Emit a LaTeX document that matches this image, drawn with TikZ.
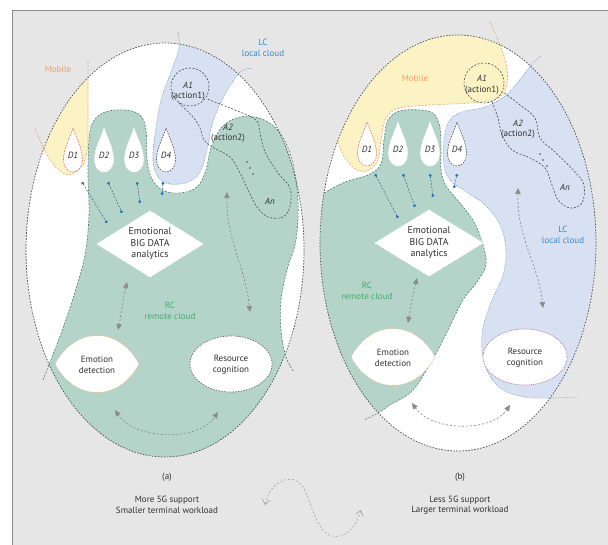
\documentclass[tikz,border=0pt]{standalone}
\usepackage{fontspec}
\setmainfont{PT Sans}
\usetikzlibrary{arrows.meta}
\definecolor{bggray}{HTML}{E6E6E6}
\definecolor{framegray}{HTML}{8A8A8A}
\definecolor{ellgray}{HTML}{4D4D4D}
\definecolor{greenfill}{HTML}{B4D4C9}
\definecolor{greenline}{HTML}{4E806F}
\definecolor{bluefill}{HTML}{D7E1F1}
\definecolor{blueline}{HTML}{7096C8}
\definecolor{yellowfill}{HTML}{FCF3C5}
\definecolor{orangeline}{HTML}{EFA273}
\definecolor{mobiletxt}{HTML}{F2A06A}
\definecolor{lctxt}{HTML}{3A88CC}
\definecolor{rctxt}{HTML}{3FAE6A}
\definecolor{textgray}{HTML}{303030}
\definecolor{arrgray}{HTML}{8C8C8C}
\definecolor{bluedot}{HTML}{1F74C2}
\definecolor{bluedash}{HTML}{4A6C8E}
\definecolor{redline}{HTML}{E0705A}
\definecolor{lensline}{HTML}{E2B48A}
\definecolor{purpleline}{HTML}{A66E9C}
\definecolor{sgray}{HTML}{A9A9A9}
\tikzset{
  every node/.style={font=\fontsize{9}{10.5}\selectfont, text=textgray, inner sep=0pt, align=center},
  bigtxt/.style={font=\fontsize{9.8}{11.5}\selectfont},
  ellborder/.style={draw=ellgray, line width=0.7pt, dash pattern=on 1.6pt off 1.4pt},
  greenb/.style={draw=greenline, line width=0.6pt, dash pattern=on 2pt off 1.5pt},
  blueb/.style={draw=blueline, line width=0.6pt, dash pattern=on 0.8pt off 1.2pt},
  orangeb/.style={draw=orangeline, line width=0.6pt, dash pattern=on 2pt off 1.5pt},
  tubeb/.style={draw=ellgray, line width=0.6pt, dash pattern=on 2pt off 1.6pt},
  grayarr/.style={draw=arrgray, line width=0.7pt, dash pattern=on 2pt off 2pt,
     {Triangle[length=6pt,width=5.5pt,fill=arrgray]}-{Triangle[length=6pt,width=5.5pt,fill=arrgray]}},
  bluearr/.style={draw=bluedash, line width=0.6pt, dash pattern=on 1.8pt off 1.5pt,
     {Circle[length=2.8pt,color=bluedot]}-{Circle[length=2.8pt,color=bluedot]}},
  sarr/.style={draw=sgray, line width=0.7pt, dash pattern=on 2pt off 2pt,
     {Straight Barb[length=5pt,width=8pt]}-{Straight Barb[length=5pt,width=8pt]}},
  dropred/.style={fill=white, draw=redline, line width=0.6pt, dash pattern=on 1.6pt off 1.2pt},
  dropwhite/.style={fill=white, draw=white, line width=0.7pt, dash pattern=on 1.6pt off 1.2pt},
  dropgray/.style={fill=white, draw=ellgray, line width=0.6pt, dash pattern=on 1.6pt off 1.2pt},
  lensA/.style={fill=white, draw=lensline, line width=0.7pt, dash pattern=on 0.8pt off 1pt},
  resgray/.style={fill=white, draw=ellgray!80, line width=0.7pt, dash pattern=on 1.6pt off 1.2pt},
  respurple/.style={fill=white, draw=purpleline, line width=0.7pt, dash pattern=on 0.8pt off 1pt},
  diam/.style={fill=white, draw=white, line width=0.8pt, dash pattern=on 1.6pt off 1.2pt},
  droplet/.pic={\path[pic actions] (0,-22) .. controls (3,-12) and (9.5,-2) .. (9.5,10)
     .. controls (9.5,17) and (5,22) .. (0,22) .. controls (-5,22) and (-9.5,17) .. (-9.5,10)
     .. controls (-9.5,-2) and (-3,-12) .. cycle;},
  lens/.pic={\path[pic actions] (-42,0) .. controls (-22,-38) and (22,-38) .. (42,0)
     .. controls (22,38) and (-22,38) .. (-42,0) -- cycle;}
}
\def\pathYA{(88,62) -- plot[smooth,tension=0.6] coordinates {(88,145) (83,165) (68,175) (54,165) (43,147) (35,128)}}
\def\pathBA{plot[smooth,tension=0.6] coordinates {(178,32) (179,48) (171,72) (161,100) (155,135) (153,160) (158,177) (170,184) (188,182) (200,172) (207,150) (212,125) (223,98) (240,72) (252,69)}}
\def\pathGA{plot[smooth,tension=0.6] coordinates {(43,380) (52,357) (63,328) (75,292) (85,255) (89,215) (88,175) (89,140) (93,122) (105,112) (125,110) (140,115) (146,130) (147,158) (151,177) (162,190) (180,193) (197,187) (206,170) (211,148) (222,127) (240,117) (262,119) (280,133) (292,160) (298,200) (296,240) (287,270) (281,300) (281,330) (286,357) (294,372)}}
\def\pathYB{plot[smooth,tension=0.6] coordinates {(490,22) (500,45) (507,68) (506,88) (496,99) (470,103) (430,105) (400,108) (386,118) (381,140) (378,160) (369,170) (357,170) (345,158) (337,140)}}
\def\pathBB{plot[smooth,tension=0.6] coordinates {(541,56) (532,64) (518,82) (505,96) (485,107) (462,112) (449,121) (444,140) (444,165) (450,180) (465,191) (485,205) (500,225) (506,250) (503,275) (490,305) (482,335) (485,365) (500,388) (525,397) (552,398) (577,397)}}
\def\pathGB{plot[smooth,tension=0.6] coordinates {(324,193) (345,182) (368,175) (381,164) (384,140) (388,120) (400,111) (420,110) (434,114) (440,128) (441,150) (441,170) (446,186) (460,203) (474,222) (483,245) (486,265) (477,282) (463,300) (448,330) (434,357) (413,390) (390,405) (378,413) (364,420)}}
\begin{document}
\begin{tikzpicture}[x=1pt,y=-1pt]
\useasboundingbox (0,0) rectangle (608,545);
\fill[white] (0,0) rectangle (608,545);
\fill[bggray] (12,10) rectangle (608,545);
\draw[framegray, line width=0.9pt] (12,545) -- (12,10) -- (608,10);

% ================= panel (a) =================
\fill[white] (165,250) ellipse (139pt and 207pt);
\begin{scope}
  \clip (165,250) ellipse (139pt and 207pt);
  \fill[yellowfill] \pathYA -- (10,128) -- (10,55) -- cycle;
  \fill[bluefill] \pathBA -- (260,20) -- (170,20) -- cycle;
  \fill[greenfill] \pathGA -- (300,480) -- (20,480) -- cycle;
\end{scope}
\draw[orangeb] \pathYA;
\draw[blueb] \pathBA;
\draw[greenb] \pathGA;
\draw[ellborder] (165,250) ellipse (139pt and 207pt);

% droplets
\pic[dropred] at (73,150) {droplet};
\pic[dropwhite] at (104,150) {droplet};
\pic[dropwhite] at (134,150) {droplet};
\pic[dropgray] at (166,150) {droplet};
\node (aD1) at (73,155) {\itshape D1};
\node (aD2) at (104,155) {\itshape D2};
\node (aD3) at (134,155) {\itshape D3};
\node (aD4) at (166,155) {\itshape D4};

% actions
\draw[tubeb] (190,87) circle (19pt);
\draw[tubeb] plot[smooth,tension=0.6] coordinates {(179,103) (193,117) (200,128) (204,140) (214,148) (230,157) (240,173) (249,192) (257,207) (268,217) (283,217) (290,206) (290,188) (278,173) (265,152) (260,133) (256,120) (235,110) (207,99)};
\node (aA1) at (188,85) {\itshape A1};
\node (aa1) at (188,96) {(action1)};
\node (aA2) at (228,127) {\itshape A2};
\node (aa2) at (228,138) {(action2)};
\node (aAn) at (270,201) {\itshape An};
\fill[ellgray] (247,162) circle (0.9pt) (250,168) circle (0.9pt) (253,174) circle (0.9pt);

% diamond
\coordinate (aDL) at (97,244); \coordinate (aDT) at (150,211);
\coordinate (aDR) at (203,244); \coordinate (aDB) at (150,277);
\path[diam] (aDL) -- (aDT) -- (aDR) -- (aDB) -- cycle;
\node[bigtxt] (aEBD) at (150,244) {Emotional\\BIG DATA\\analytics};

% lens and resource
\pic[lensA] at (97,364) {lens};
\node (aED) at (97,365) {Emotion\\detection};
\path[resgray] (231,364) ellipse (41pt and 28pt);
\node (aRC) at (231,365) {Resource\\cognition};

% blue arrows
\coordinate (ab1s) at (82,182); \coordinate (ab1e) at (107,223);
\coordinate (ab2s) at (108,182); \coordinate (ab2e) at (122,213);
\coordinate (ab3s) at (137,182); \coordinate (ab3e) at (140,203);
\coordinate (ab4s) at (163,182); \coordinate (ab4e) at (162,195);
\draw[bluearr] (ab1s) -- (ab1e);
\draw[bluearr] (ab2s) -- (ab2e);
\draw[bluearr] (ab3s) -- (ab3e);
\draw[bluearr] (ab4s) -- (ab4e);

% gray arrows
\coordinate (ag1) at (127,282); \coordinate (ag2) at (118,330);
\draw[grayarr] (ag1) .. controls (123,300) and (121,315) .. (ag2);
\coordinate (ag3) at (227,192); \coordinate (ag4) at (250,312);
\draw[grayarr] (ag3) .. controls (226,240) and (245,265) .. (ag4);
\coordinate (ag5) at (115,410); \coordinate (ag6) at (218,412);
\draw[grayarr] (ag5) .. controls (135,440) and (198,442) .. (ag6);

% labels
\node[text=mobiletxt] (aMob) at (58,69) {Mobile};
\node[text=lctxt] (aLC) at (263,48) {LC\\local cloud};
\node[text=rctxt] (aRCl) at (170,311) {RC\\remote cloud};
\node (acap) at (167,477) {(a)};
\node (atxt) at (167,505) {More 5G support\\Smaller terminal workload};

% ================= panel (b) =================
\fill[white] (458,243) ellipse (138pt and 208pt);
\begin{scope}
  \clip (458,243) ellipse (138pt and 208pt);
  \fill[yellowfill] \pathYB -- (300,120) -- (300,0) -- (490,0) -- cycle;
  \fill[bluefill] \pathBB -- (620,397) -- (620,20) -- (541,20) -- cycle;
  \fill[greenfill] \pathGB -- (300,480) -- (300,194) -- cycle;
\end{scope}
\draw[orangeb] \pathYB;
\draw[blueb] \pathBB;
\draw[greenb] \pathGB;
\draw[ellborder] (458,243) ellipse (138pt and 208pt);

\pic[dropred] at (367,144) {droplet};
\pic[dropwhite] at (398,144) {droplet};
\pic[dropwhite] at (430,144) {droplet};
\pic[dropgray] at (457,144) {droplet};
\node (bD1) at (367,149) {\itshape D1};
\node (bD2) at (398,149) {\itshape D2};
\node (bD3) at (430,149) {\itshape D3};
\node (bD4) at (457,149) {\itshape D4};

\draw[tubeb] (484,83) circle (20pt);
\draw[tubeb] plot[smooth,tension=0.6] coordinates {(492,102) (498,118) (502,135) (512,150) (530,158) (545,168) (552,185) (558,200) (570,208) (582,203) (584,185) (575,172) (555,152) (540,138) (535,118) (520,105) (503,92)};
\node (bA1) at (482,78) {\itshape A1};
\node (ba1) at (482,90) {(action1)};
\node (bA2) at (518,123) {\itshape A2};
\node (ba2) at (518,134) {(action2)};
\node (bAn) at (565,187) {\itshape An};
\fill[ellgray] (540,154) circle (0.9pt) (543,160) circle (0.9pt) (547,166) circle (0.9pt);

\coordinate (bDL) at (375,243); \coordinate (bDT) at (429,210);
\coordinate (bDR) at (483,243); \coordinate (bDB) at (429,276);
\path[diam] (bDL) -- (bDT) -- (bDR) -- (bDB) -- cycle;
\node[bigtxt] (bEBD) at (429,243) {Emotional\\BIG DATA\\analytics};

\pic[lensA] at (393,357) {lens};
\node (bED) at (393,358) {Emotion\\detection};
\path[respurple] (525,357) ellipse (42pt and 28pt);
\node (bRC) at (525,358) {Resource\\cognition};

\coordinate (bb1s) at (375,174); \coordinate (bb1e) at (398,218);
\coordinate (bb2s) at (403,174); \coordinate (bb2e) at (415,207);
\coordinate (bb3s) at (430,174); \coordinate (bb3e) at (433,197);
\coordinate (bb4s) at (457,174); \coordinate (bb4e) at (454,188);
\draw[bluearr] (bb1s) -- (bb1e);
\draw[bluearr] (bb2s) -- (bb2e);
\draw[bluearr] (bb3s) -- (bb3e);
\draw[bluearr] (bb4s) -- (bb4e);

\coordinate (bg1) at (417,278); \coordinate (bg2) at (408,323);
\draw[grayarr] (bg1) .. controls (413,295) and (410,310) .. (bg2);
\coordinate (bg3) at (518,188); \coordinate (bg4) at (543,308);
\draw[grayarr] (bg3) .. controls (517,240) and (538,262) .. (bg4);
\coordinate (bg5) at (412,403); \coordinate (bg6) at (510,405);
\draw[grayarr] (bg5) .. controls (432,432) and (492,432) .. (bg6);

\node[text=mobiletxt] (bMob) at (415,78) {Mobile};
\node[text=lctxt] (bLC) at (563,235) {LC\\local cloud};
\node[text=rctxt] (bRCl) at (367,291) {RC\\remote cloud};
\node (bcap) at (460,477) {(b)};
\node (btxt) at (460,505) {Less 5G support\\Larger terminal workload};

% middle S-curve
\coordinate (s1) at (265,505); \coordinate (s2) at (361,510);
\draw[sarr] (s1) .. controls (270,480) and (295,470) .. (305,490) .. controls (315,515) and (320,540) .. (340,536) .. controls (352,533) and (358,520) .. (s2);
\end{tikzpicture}
\end{document}
